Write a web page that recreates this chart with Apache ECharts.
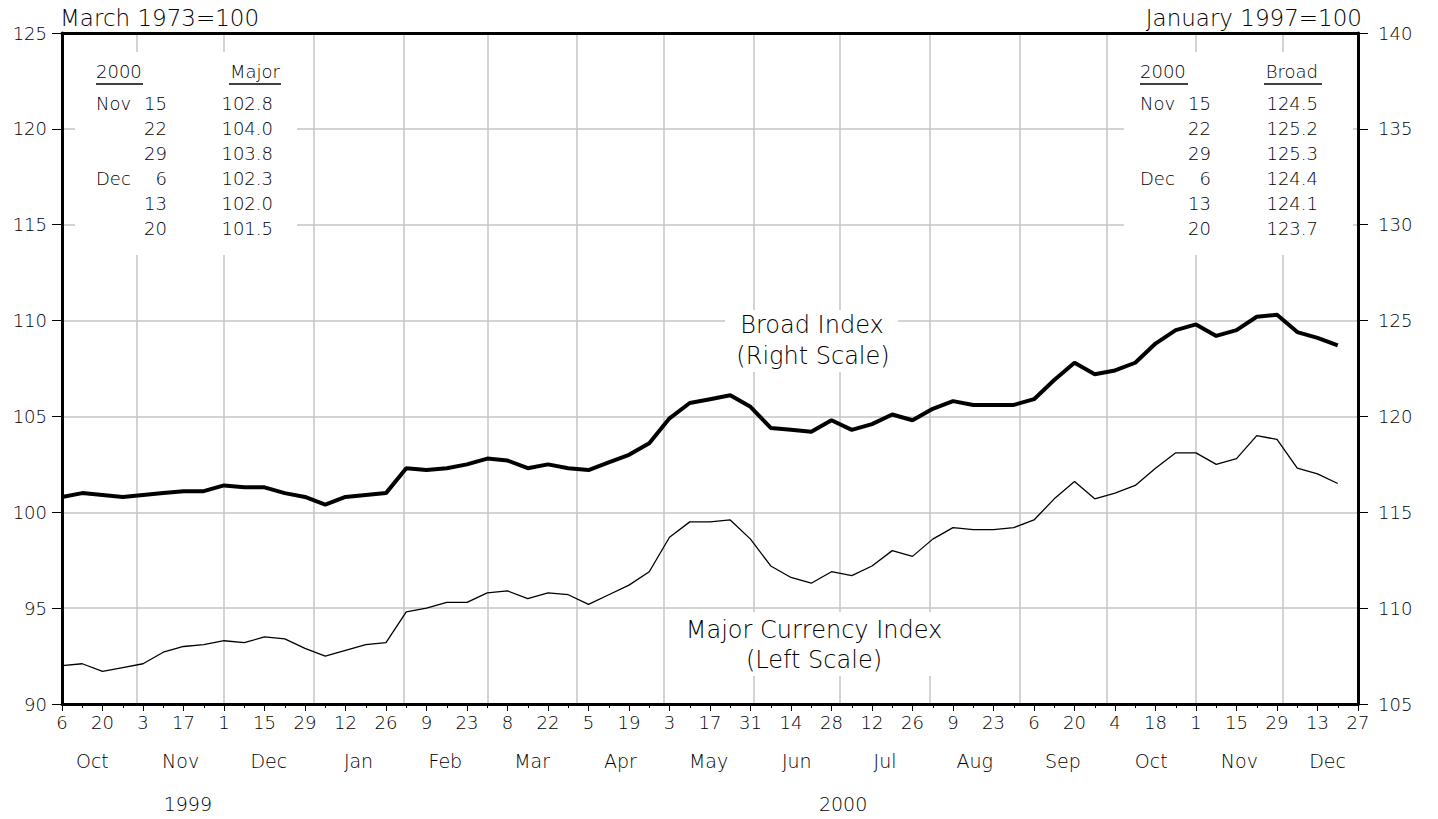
<!DOCTYPE html>
<html>
<head>
<meta charset="utf-8">
<title>Major Currency and Broad Index</title>
<script src="https://cdn.jsdelivr.net/npm/echarts@6/dist/echarts.min.js"></script>
<style>
  html, body { margin: 0; padding: 0; background: #fff; }
  #chart { width: 1438px; height: 819px; }
</style>
</head>
<body>
<div id="chart"></div>
<script>
// weekly values, Oct 6 1999 .. Dec 20 2000
const majorIndex = [
  92.0, 92.1, 91.7, 91.9, 92.1, 92.7, 93.0, 93.1, 93.3, 93.2, 93.5, 93.4, 92.9, 92.5, 92.8, 93.1,
  93.2, 94.8, 95.0, 95.3, 95.3, 95.8, 95.9, 95.5, 95.8, 95.7, 95.2, 95.7, 96.2, 96.9, 98.7, 99.5,
  99.5, 99.6, 98.6, 97.2, 96.6, 96.3, 96.9, 96.7, 97.2, 98.0, 97.7, 98.6, 99.2, 99.1, 99.1, 99.2,
  99.6, 100.7, 101.6, 100.7, 101.0, 101.4, 102.3, 103.1, 103.1, 102.5, 102.8, 104.0, 103.8, 102.3,
  102.0, 101.5
];
const broadIndex = [
  115.8, 116.0, 115.9, 115.8, 115.9, 116.0, 116.1, 116.1, 116.4, 116.3, 116.3, 116.0, 115.8, 115.4, 115.8, 115.9,
  116.0, 117.3, 117.2, 117.3, 117.5, 117.8, 117.7, 117.3, 117.5, 117.3, 117.2, 117.6, 118.0, 118.6, 119.9, 120.7,
  120.9, 121.1, 120.5, 119.4, 119.3, 119.2, 119.8, 119.3, 119.6, 120.1, 119.8, 120.4, 120.8, 120.6, 120.6, 120.6,
  120.9, 121.9, 122.8, 122.2, 122.4, 122.8, 123.8, 124.5, 124.8, 124.2, 124.5, 125.2, 125.3, 124.4,
  124.1, 123.7
];
// labels every other week
const weekLabels = ['6','20','3','17','1','15','29','12','26','9','23','8','22','5','19','3','17',
  '31','14','28','12','26','9','23','6','20','4','18','1','15','29','13','27'];
const monthLabels = ['Oct','Nov','Dec','Jan','Feb','Mar','Apr','May','Jun','Jul','Aug','Sep','Oct','Nov','Dec'];
const yearLabels = ['1999', '2000'];
const leftTicks = [90, 95, 100, 105, 110, 115, 120, 125];
const rightTicks = [105, 110, 115, 120, 125, 130, 135, 140];

// boxes in the corners
const tableMonth = ['Nov', '', '', 'Dec', '', ''];
const tableDay = ['15', '22', '29', '6', '13', '20'];
const tableMajor = ['102.8', '104.0', '103.8', '102.3', '102.0', '101.5'];
const tableBroad = ['124.5', '125.2', '125.3', '124.4', '124.1', '123.7'];

const FAMILY = '"DejaVu Sans", sans-serif';
const INK = '#000';
const DAY = 86400000;
const start = Date.UTC(1999, 9, 6);
const dayOf = (y, m, d) => (Date.UTC(y, m, d) - start) / DAY;
const lastDay = 7 * 64;

const weekTicks = [];
for (let i = 0; i <= 64; i++) weekTicks.push(7 * i);
const biweekTicks = weekTicks.filter((d, i) => i % 2 === 0);

const monthStarts = [];
for (let k = 0; k <= 15; k++) monthStarts.push(dayOf(1999 + Math.floor((9 + k) / 12), (9 + k) % 12, 1));
const monthMid = monthLabels.map((m, k) => (monthStarts[k] + monthStarts[k + 1]) / 2);
const gridDays = monthStarts.filter(d => d > 0 && d < lastDay);
const yearMid = [dayOf(2000, 0, 1) / 2, (dayOf(2000, 0, 1) + dayOf(2001, 0, 1)) / 2];

const findIdx = (arr, v) => arr.findIndex(a => Math.abs(a - v) < 0.01);

const baseX = {
  type: 'value', min: 0, max: lastDay, position: 'bottom',
  axisLine: { show: false }, axisTick: { show: false }, axisLabel: { show: false },
  splitLine: { show: false }
};
const lbl = (size, margin, fmt, values) => ({
  show: true, customValues: values, margin, formatter: fmt,
  color: INK, fontSize: size, fontFamily: FAMILY, fontWeight: 200
});

function txt(x, y, text, size, align) {
  return { type: 'text', z: 100, x, y,
    style: { text, fill: INK, font: `200 ${size}px ${FAMILY}`, align, verticalAlign: 'middle' } };
}
function rule(x1, x2, y) {
  return { type: 'line', z: 100, shape: { x1, y1: y, x2, y2: y }, style: { stroke: INK, lineWidth: 1.5 } };
}
function box(x, y, w, h) {
  return { type: 'rect', z: 50, shape: { x, y, width: w, height: h }, style: { fill: '#fff' } };
}

const graphics = [
  txt(60, 18, 'March 1973=100', 23, 'left'),
  txt(1362, 18, 'January 1997=100', 23, 'right'),
  box(75, 52, 222, 203), box(1124, 52, 229, 203),
  txt(96, 71, '2000', 18, 'left'), rule(96, 143, 84),
  txt(280, 71, 'Major', 18, 'right'), rule(229, 281, 84),
  txt(1140, 71, '2000', 18, 'left'), rule(1140, 1188, 84),
  txt(1318, 71, 'Broad', 18, 'right'), rule(1264, 1322, 84),
  box(725, 310, 173, 62),
  txt(812, 325, 'Broad Index', 24, 'center'),
  txt(813, 356, '(Right Scale)', 24, 'center'),
  box(670, 612, 288, 64),
  txt(814, 630, 'Major Currency Index', 24, 'center'),
  txt(814, 660, '(Left Scale)', 24, 'center')
];
tableDay.forEach((d, r) => {
  const y = 103 + 25 * r;
  if (tableMonth[r]) {
    graphics.push(txt(96, y, tableMonth[r], 18, 'left'));
    graphics.push(txt(1140, y, tableMonth[r], 18, 'left'));
  }
  graphics.push(txt(167, y, d, 18, 'right'));
  graphics.push(txt(273, y, tableMajor[r], 18, 'right'));
  graphics.push(txt(1211, y, d, 18, 'right'));
  graphics.push(txt(1318, y, tableBroad[r], 18, 'right'));
});

const chart = echarts.init(document.getElementById('chart'), null, { renderer: 'svg' });
chart.setOption({
  animation: false,
  backgroundColor: '#fff',
  grid: { left: 62, right: 80, top: 33, bottom: 115 },
  xAxis: [
    Object.assign({}, baseX, {
      axisLine: { show: true, onZero: false, lineStyle: { color: '#000', width: 3 } },
      axisTick: { show: true, customValues: weekTicks, length: 4, lineStyle: { color: '#000', width: 1 } },
      axisLabel: lbl(18, 9, v => weekLabels[Math.round(v / 14)], biweekTicks)
    }),
    Object.assign({}, baseX, {
      axisTick: { show: true, customValues: biweekTicks, length: 7, lineStyle: { color: '#000', width: 1 } }
    }),
    Object.assign({}, baseX, {
      axisLabel: lbl(19, 47, v => monthLabels[findIdx(monthMid, v)], monthMid)
    }),
    Object.assign({}, baseX, {
      axisLabel: lbl(19, 90, v => yearLabels[findIdx(yearMid, v)], yearMid)
    }),
    Object.assign({}, baseX, {
      axisTick: { show: false, customValues: gridDays },
      splitLine: { show: true, lineStyle: { color: '#c4c4c4', width: 1.5 } }
    }),
    Object.assign({}, baseX, {
      position: 'top',
      axisLine: { show: true, onZero: false, lineStyle: { color: '#000', width: 3 } }
    })
  ],
  yAxis: [
    {
      type: 'value', min: leftTicks[0], max: leftTicks[leftTicks.length - 1], interval: 5, position: 'left',
      axisLine: { show: true, onZero: false, lineStyle: { color: '#000', width: 3 } },
      axisTick: { show: true, length: 10, lineStyle: { color: '#000', width: 1 } },
      axisLabel: { margin: 15, color: INK, fontSize: 18, fontFamily: FAMILY, fontWeight: 200 },
      splitLine: { show: true, lineStyle: { color: '#c4c4c4', width: 1.5 } }
    },
    {
      type: 'value', min: rightTicks[0], max: rightTicks[rightTicks.length - 1], interval: 5, position: 'right',
      axisLine: { show: true, onZero: false, lineStyle: { color: '#000', width: 3 } },
      axisTick: { show: true, length: 10, lineStyle: { color: '#000', width: 1 } },
      axisLabel: { margin: 20, color: INK, fontSize: 18, fontFamily: FAMILY, fontWeight: 200 },
      splitLine: { show: false }
    }
  ],
  series: [
    {
      name: 'Major Currency Index', type: 'line', xAxisIndex: 0, yAxisIndex: 0,
      data: majorIndex.map((v, i) => [7 * i, v]),
      showSymbol: false, lineStyle: { color: '#000', width: 1.3 }, z: 5
    },
    {
      name: 'Broad Index', type: 'line', xAxisIndex: 0, yAxisIndex: 1,
      data: broadIndex.map((v, i) => [7 * i, v]),
      showSymbol: false, lineStyle: { color: '#000', width: 4 }, z: 5
    }
  ],
  graphic: graphics
});
</script>
</body>
</html>
